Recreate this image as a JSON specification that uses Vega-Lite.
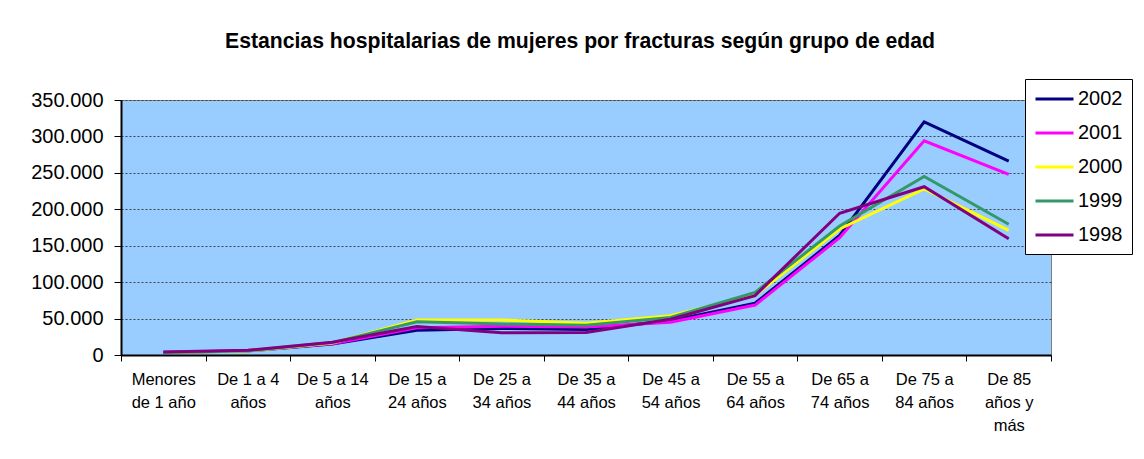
{
  "$schema": "https://vega.github.io/schema/vega-lite/v6.json",
  "width": 930,
  "height": 255,
  "autosize": {"type": "none"},
  "padding": {"left": 121, "top": 100, "right": 93, "bottom": 104},
  "background": "white",
  "title": {
    "text": "Estancias hospitalarias de mujeres por fracturas según grupo de edad",
    "font": "Liberation Sans",
    "fontSize": 21.2,
    "fontWeight": "bold",
    "color": "black",
    "anchor": "middle",
    "frame": "group",
    "dx": -6,
    "offset": 26
  },
  "config": {
    "locale": {"number": {"decimal": ",", "thousands": ".", "grouping": [3], "currency": ["", " €"]}},
    "view": {"fill": "#99CCFF", "stroke": "#808080", "strokeWidth": 1},
    "font": "Liberation Sans"
  },
  "data": {
    "values": [
      {"grupo": "Menores|de 1 año", "anio": "2002", "valor": 3500},
      {"grupo": "De 1 a 4|años", "anio": "2002", "valor": 5500},
      {"grupo": "De 5 a 14|años", "anio": "2002", "valor": 15000},
      {"grupo": "De 15 a|24 años", "anio": "2002", "valor": 34000},
      {"grupo": "De 25 a|34 años", "anio": "2002", "valor": 36500},
      {"grupo": "De 35 a|44 años", "anio": "2002", "valor": 35000},
      {"grupo": "De 45 a|54 años", "anio": "2002", "valor": 47000},
      {"grupo": "De 55 a|64 años", "anio": "2002", "valor": 71000},
      {"grupo": "De 65 a|74 años", "anio": "2002", "valor": 164000},
      {"grupo": "De 75 a|84 años", "anio": "2002", "valor": 320000},
      {"grupo": "De 85|años y|más", "anio": "2002", "valor": 266000},
      {"grupo": "Menores|de 1 año", "anio": "2001", "valor": 3800},
      {"grupo": "De 1 a 4|años", "anio": "2001", "valor": 5800},
      {"grupo": "De 5 a 14|años", "anio": "2001", "valor": 15500},
      {"grupo": "De 15 a|24 años", "anio": "2001", "valor": 37500},
      {"grupo": "De 25 a|34 años", "anio": "2001", "valor": 39500},
      {"grupo": "De 35 a|44 años", "anio": "2001", "valor": 38500},
      {"grupo": "De 45 a|54 años", "anio": "2001", "valor": 45000},
      {"grupo": "De 55 a|64 años", "anio": "2001", "valor": 68500},
      {"grupo": "De 65 a|74 años", "anio": "2001", "valor": 161000},
      {"grupo": "De 75 a|84 años", "anio": "2001", "valor": 294000},
      {"grupo": "De 85|años y|más", "anio": "2001", "valor": 248000},
      {"grupo": "Menores|de 1 año", "anio": "2000", "valor": 3500},
      {"grupo": "De 1 a 4|años", "anio": "2000", "valor": 5500},
      {"grupo": "De 5 a 14|años", "anio": "2000", "valor": 16500},
      {"grupo": "De 15 a|24 años", "anio": "2000", "valor": 48000},
      {"grupo": "De 25 a|34 años", "anio": "2000", "valor": 48000},
      {"grupo": "De 35 a|44 años", "anio": "2000", "valor": 43500},
      {"grupo": "De 45 a|54 años", "anio": "2000", "valor": 54000},
      {"grupo": "De 55 a|64 años", "anio": "2000", "valor": 82000},
      {"grupo": "De 65 a|74 años", "anio": "2000", "valor": 173000},
      {"grupo": "De 75 a|84 años", "anio": "2000", "valor": 228000},
      {"grupo": "De 85|años y|más", "anio": "2000", "valor": 171000},
      {"grupo": "Menores|de 1 año", "anio": "1999", "valor": 3600},
      {"grupo": "De 1 a 4|años", "anio": "1999", "valor": 5800},
      {"grupo": "De 5 a 14|años", "anio": "1999", "valor": 17000},
      {"grupo": "De 15 a|24 años", "anio": "1999", "valor": 45500},
      {"grupo": "De 25 a|34 años", "anio": "1999", "valor": 42500},
      {"grupo": "De 35 a|44 años", "anio": "1999", "valor": 41000},
      {"grupo": "De 45 a|54 años", "anio": "1999", "valor": 51500},
      {"grupo": "De 55 a|64 años", "anio": "1999", "valor": 86000},
      {"grupo": "De 65 a|74 años", "anio": "1999", "valor": 177000},
      {"grupo": "De 75 a|84 años", "anio": "1999", "valor": 245000},
      {"grupo": "De 85|años y|más", "anio": "1999", "valor": 179500},
      {"grupo": "Menores|de 1 año", "anio": "1998", "valor": 4000},
      {"grupo": "De 1 a 4|años", "anio": "1998", "valor": 6400},
      {"grupo": "De 5 a 14|años", "anio": "1998", "valor": 17500},
      {"grupo": "De 15 a|24 años", "anio": "1998", "valor": 39000},
      {"grupo": "De 25 a|34 años", "anio": "1998", "valor": 30500},
      {"grupo": "De 35 a|44 años", "anio": "1998", "valor": 31000},
      {"grupo": "De 45 a|54 años", "anio": "1998", "valor": 49000},
      {"grupo": "De 55 a|64 años", "anio": "1998", "valor": 81500},
      {"grupo": "De 65 a|74 años", "anio": "1998", "valor": 194500},
      {"grupo": "De 75 a|84 años", "anio": "1998", "valor": 231000},
      {"grupo": "De 85|años y|más", "anio": "1998", "valor": 159500}
    ]
  },
  "mark": {"type": "line", "strokeWidth": 3},
  "encoding": {
    "x": {
      "field": "grupo",
      "type": "nominal",
      "sort": null,
      "scale": {"paddingInner": 0, "paddingOuter": 0},
      "axis": {
        "title": null,
        "labelAngle": 0,
        "labelExpr": "split(datum.label, '|')",
        "labelFont": "Liberation Sans",
        "labelFontSize": 16.5,
        "labelLineHeight": 23,
        "labelColor": "black",
        "labelPadding": 10,
        "labelBaseline": "top",
        "labelLimit": 200,
        "tickBand": "extent",
        "tickSize": 6,
        "tickColor": "black",
        "domainColor": "black",
        "domainWidth": 2,
        "grid": false
      }
    },
    "y": {
      "field": "valor",
      "type": "quantitative",
      "scale": {"domain": [0, 350000], "nice": false},
      "axis": {
        "title": null,
        "values": [0, 50000, 100000, 150000, 200000, 250000, 300000, 350000],
        "format": ",d",
        "labelFont": "Liberation Sans",
        "labelFontSize": 20,
        "labelColor": "black",
        "labelPadding": 11,
        "tickSize": 7,
        "tickColor": "black",
        "domainColor": "black",
        "domainWidth": 2,
        "grid": true,
        "gridColor": "#404040",
        "gridDash": [2, 2],
        "gridWidth": 1
      }
    },
    "color": {
      "field": "anio",
      "type": "nominal",
      "sort": ["2002", "2001", "2000", "1999", "1998"],
      "scale": {
        "domain": ["2002", "2001", "2000", "1999", "1998"],
        "range": ["#000080", "#FF00FF", "#FFFF00", "#339966", "#800080"]
      },
      "legend": {
        "title": null,
        "orient": "none",
        "legendX": 904,
        "legendY": -21,
        "fillColor": "white",
        "strokeColor": "black",
        "padding": 9,
        "symbolType": "M-1,0H3",
        "symbolSize": 361,
        "symbolStrokeWidth": 3,
        "labelFont": "Liberation Sans",
        "labelFontSize": 20,
        "labelColor": "black",
        "labelOffset": 22,
        "rowPadding": 13
      }
    }
  }
}
